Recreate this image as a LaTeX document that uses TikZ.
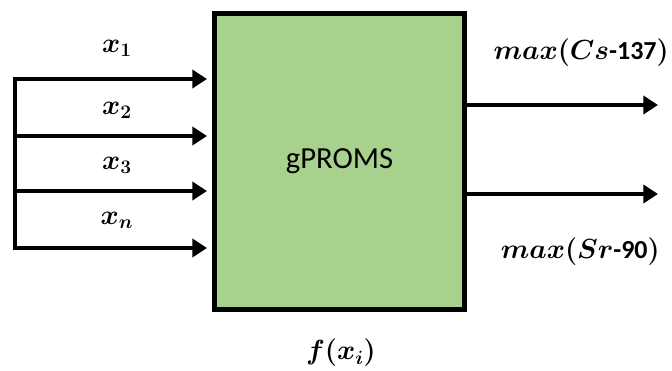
\documentclass[tikz,border=0pt]{standalone}
\usepackage{fontspec}
\setmainfont{Carlito}
\usepackage{amsmath,bm}
\usetikzlibrary{arrows.meta,calc}
\tikzset{
  procbox/.style={draw=black, line width=3.75pt, fill=procgreen, minimum width=187.5pt, minimum height=222pt, inner sep=0pt, font=\fontsize{23}{27}\selectfont},
  arr/.style={line width=3.4pt, line join=miter, -{Triangle[length=11pt,width=13.5pt]}},
  lbl/.style={inner sep=0pt, font=\fontsize{20}{24}\selectfont},
  olbl/.style={inner sep=0pt, anchor=east, font=\fontsize{19.5}{23}\selectfont}
}
\definecolor{procgreen}{RGB}{169,209,142}
\begin{document}
\begin{tikzpicture}[x=0.75pt,y=-0.75pt]
\useasboundingbox (0,0) rectangle (672,371);
\node[procbox] (gp) at (339.5,161.5) {gPROMS};
% left bus
\coordinate (b1) at (15,79);
\coordinate (b2) at (15,136);
\coordinate (b3) at (15,191);
\coordinate (b4) at (15,248);
\coordinate (t1) at (207,79);
\coordinate (t2) at (207,136);
\coordinate (t3) at (207,191);
\coordinate (t4) at (207,248);
\draw[arr] (b4) -- (b1) -- (t1);
\draw[arr] (b1) -- (b4) -- (t4);
\draw[arr] (b2) -- (t2);
\draw[arr] (b3) -- (t3);
% outputs
\coordinate (o1) at (658,105);
\coordinate (o2) at (658,194);
\draw[arr] (gp.east |- o1) -- (o1);
\draw[arr] (gp.east |- o2) -- (o2);
% labels
\node[lbl] (lx1) at (117,48) {$\bm{x_1}$};
\node[lbl] (lx2) at (117,110) {$\bm{x_2}$};
\node[lbl] (lx3) at (117,165) {$\bm{x_3}$};
\node[lbl] (lxn) at (117,220) {$\bm{x_n}$};
\node[olbl] (lcs) at (669,53) {$\bm{max(Cs}$\textbf{-137}$\bm{)}$};
\node[olbl] (lsr) at (660,252) {$\bm{max(Sr}$\textbf{-90}$\bm{)}$};
\node[lbl] (lf) at (341,353) {$\bm{f(x_i)}$};
\end{tikzpicture}
\end{document}
